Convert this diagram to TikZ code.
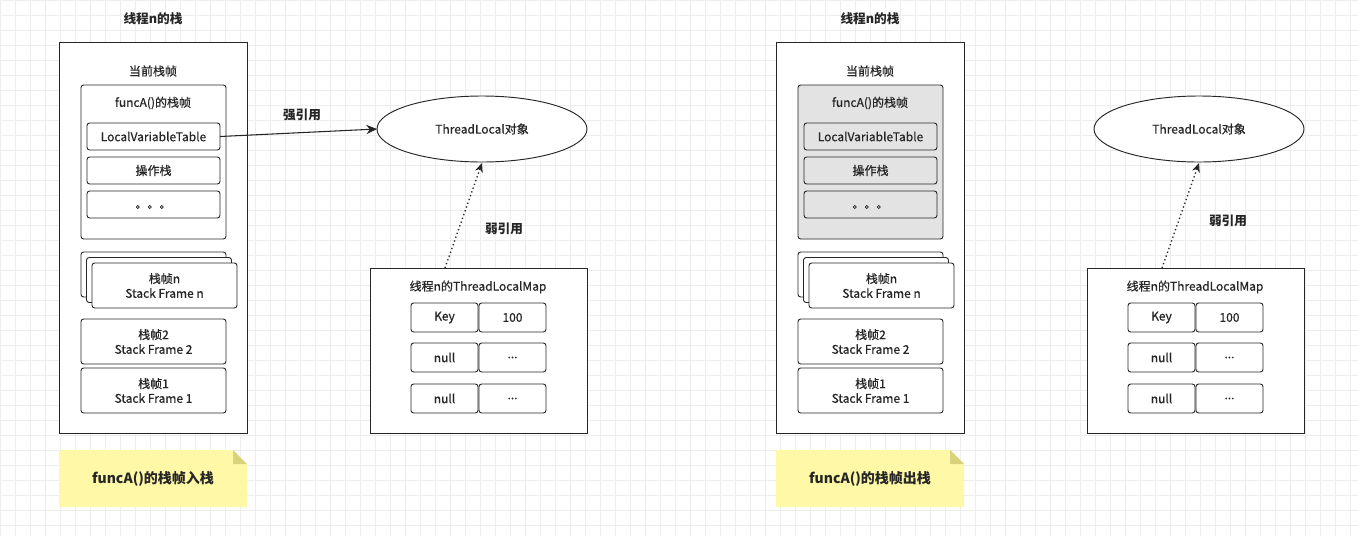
\documentclass[tikz,border=0pt]{standalone}
\usepackage{fontspec}
\setmainfont{Noto Sans CJK SC}
\newfontfamily\medfont{Noto Sans CJK SC}[FakeBold=0.6]
\usetikzlibrary{arrows.meta}
\definecolor{gridc}{HTML}{EDEDED}
\definecolor{notey}{HTML}{FFF8A6}
\definecolor{noted}{HTML}{D8D27A}
\definecolor{frameg}{HTML}{E3E3E3}
\tikzset{
  tx/.style={font=\medfont\fontsize{9}{11}\selectfont,align=center,text=black!85},
  bt/.style={font=\bfseries\fontsize{9.5}{11}\selectfont,text=black!85},
}
\newcommand\mydots{...}
\newcommand\halfdiag[4]{% prefix, xshift, fill, note text
\begin{scope}[xshift=#2*0.75pt]
  \node[bt] (#1title) at (153,19) {线程n的栈};
  \draw[line width=0.7pt,black!85,fill=white] (59,42) rectangle (247,433);
  \node[tx] (#1cur) at (153,71) {当前栈帧};
  \draw[line width=0.7pt,black!85,rounded corners=2pt,fill=#3] (81,85) rectangle (226,239);
  \node[tx] (#1fa) at (153,103) {funcA()的栈帧};
  \draw[line width=0.7pt,black!85,rounded corners=2pt,fill=#3] (87,123) rectangle (220,150);
  \node[tx] (#1lvt) at (153.5,136.5) {LocalVariableTable};
  \coordinate (#1lvte) at (220,136.5);
  \draw[line width=0.7pt,black!85,rounded corners=2pt,fill=#3] (87,157) rectangle (220,184);
  \node[tx] (#1op) at (153.5,170.5) {操作栈};
  \draw[line width=0.7pt,black!85,rounded corners=2pt,fill=#3] (87,191) rectangle (220,218);
  \node[tx] (#1dots) at (153.5,207) {。。。};
  \draw[line width=0.7pt,black!85,rounded corners=2pt,fill=white] (81,252) rectangle (226,297);
  \draw[line width=0.7pt,black!85,rounded corners=2pt,fill=white] (86.5,257.5) rectangle (231.5,302.5);
  \draw[line width=0.7pt,black!85,rounded corners=2pt,fill=white] (92,263) rectangle (237,308);
  \node[tx] (#1sfn) at (164.5,285.5) {栈帧n\\Stack Frame n};
  \draw[line width=0.7pt,black!85,rounded corners=2pt] (81,319) rectangle (226,364);
  \node[tx] (#1sf2) at (153.5,341.5) {栈帧2\\Stack Frame 2};
  \draw[line width=0.7pt,black!85,rounded corners=2pt] (81,368) rectangle (226,413);
  \node[tx] (#1sf1) at (153.5,390.5) {栈帧1\\Stack Frame 1};
  \fill[notey] (59,450) -- (233,450) -- (247,464) -- (247,507) -- (59,507) -- cycle;
  \fill[noted] (233,450) -- (247,464) -- (233,464) -- cycle;
  \node[bt,font=\bfseries\fontsize{10.5}{12}\selectfont] (#1note) at (153,479) {#4};
  \draw[line width=0.7pt,black!85,fill=white] (482,129) ellipse [x radius=105,y radius=33];
  \node[tx] (#1tl) at (482,129) {ThreadLocal对象};
  \coordinate (#1tlw) at (377,129);
  \coordinate (#1tls) at (482,163);
  \draw[line width=0.7pt,black!85,fill=white] (370,268) rectangle (587,433);
  \node[tx] (#1map) at (478,287) {线程n的ThreadLocalMap};
  \coordinate (#1mapt) at (445,268);
  \foreach \y/\a/\b in {303/Key/100,343/null/\mydots,384/null/\mydots}{
    \draw[line width=0.7pt,black!85,rounded corners=2pt] (411,\y) rectangle (478,\y+29);
    \draw[line width=0.7pt,black!85,rounded corners=2pt] (479,\y) rectangle (546,\y+29);
    \node[tx] at (444.5,\y+14.5) {\a};
    \node[tx] at (512.5,\y+14.5) {\b};
  }
  \draw[line width=1pt,black!85,dotted,-{Stealth[length=7pt,width=6pt]}] (#1mapt) -- (#1tls);
\end{scope}}
\begin{document}
\begin{tikzpicture}[x=0.75pt,y=-0.75pt]
\useasboundingbox (0,0) rectangle (1358,536);
\fill[white] (0,0) rectangle (1358,536);
\foreach \i in {0,...,90} \draw[gridc,line width=0.4pt] (\i*15,0) -- (\i*15,536);
\foreach \i in {0,...,35} \draw[gridc,line width=0.4pt] (0,\i*15) -- (1358,\i*15);
\halfdiag{L}{0}{white}{funcA()的栈帧入栈}
\halfdiag{R}{717}{frameg}{funcA()的栈帧出栈}
\draw[line width=0.8pt,black!85,-{Stealth[length=8pt,width=7pt]}] (Llvte) -- (Ltlw);
\node[bt] (strong) at (302,115) {强引用};
\node[bt] (weakL) at (504,229) {弱引用};
\node[bt] (weakR) at (1228,221) {弱引用};
\end{tikzpicture}
\end{document}
